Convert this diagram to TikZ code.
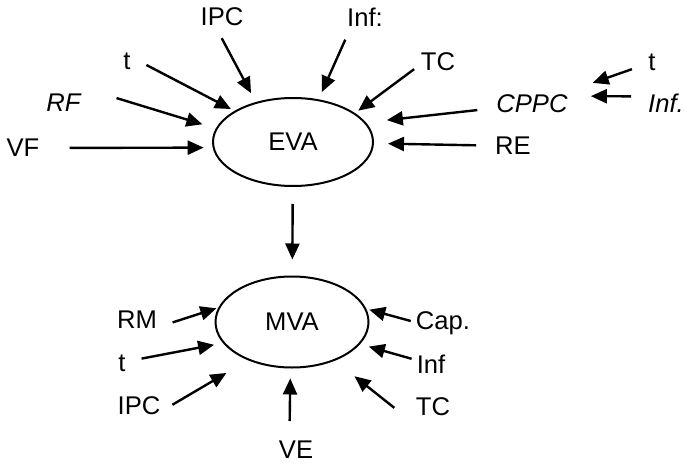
\documentclass[tikz,border=0pt]{standalone}
\usepackage{fontspec}
\setmainfont{Liberation Sans}
\usetikzlibrary{shapes.geometric,arrows.meta}

\begin{document}
\begin{tikzpicture}[x=0.5pt, y=-0.5pt, line width=1.2pt,
    lbl/.style={inner sep=2pt, text depth=0pt, font=\fontsize{12.8}{15}\selectfont},
    oval/.style={draw, ellipse, line width=1pt, inner sep=0pt, font=\fontsize{12.8}{15}\selectfont},
    arr/.style={-{Triangle[length=8pt,width=7pt]}}]
    \useasboundingbox (0,0) rectangle (688,470);
    \node[oval, minimum width=80pt, minimum height=44pt] (EVA) at (293,142) {EVA};
    \node[oval, minimum width=76.5pt, minimum height=45.5pt] (MVA) at (292,322) {MVA};
    \node[lbl] (IPCe) at (222,17) {IPC};
    \node[lbl] (INFe) at (365,17) {Inf:};
    \node[lbl] (Te) at (127,61) {t};
    \node[lbl] (TCe) at (438,62) {TC};
    \node[lbl] (RFe) at (64,103) {\textit{RF}};
    \node[lbl] (VFe) at (23,148) {VF};
    \node[lbl] (CPPC) at (532,104) {\textit{CPPC}};
    \node[lbl] (REe) at (513,146) {RE};
    \node[lbl] (Tc) at (652,62) {t};
    \node[lbl] (INFc) at (666,103) {\textit{Inf.}};
    \node[lbl] (RMm) at (137,320) {RM};
    \node[lbl] (Tm) at (122,363) {t};
    \node[lbl] (IPCm) at (139,406) {IPC};
    \node[lbl] (VEm) at (296,450) {VE};
    \node[lbl] (TCm) at (433,407) {TC};
    \node[lbl] (INFm) at (431,364) {Inf};
    \node[lbl] (CAPm) at (443,321) {Cap.};
    \draw[arr, shorten <=4pt, shorten >=5pt] (IPCe.-106) -- (EVA.133);
    \draw[arr, shorten <=4.5pt, shorten >=4pt] (INFe.-138) -- (EVA.59);
    \draw[arr, shorten <=6pt, shorten >=2pt] (Te.10) -- (EVA.152);
    \draw[arr, shorten <=15.5pt, shorten >=7pt] (RFe.north east) -- (EVA.170);
    \draw[arr, shorten <=12.5pt, shorten >=4.5pt] (VFe) -- (EVA.184);
    \draw[arr, shorten <=1pt, shorten >=2pt] (TCe.-165) -- (EVA.25);
    \draw[arr, shorten <=7pt, shorten >=10.5pt] (CPPC) -- (EVA.15);
    \draw[arr, shorten <=7pt, shorten >=7pt] (REe) -- (EVA.-1);
    \draw[arr, shorten <=6pt, shorten >=10.5pt] (Tc.-160) -- (CPPC.north east);
    \draw[arr, shorten <=6pt, shorten >=9pt] (INFc.164) -- (CPPC.11);
    \draw[arr, shorten <=8.5pt, shorten >=8pt] (EVA) -- (MVA);
    \draw[arr, shorten <=5.5pt, shorten >=1pt] (RMm.-13) -- (MVA.169);
    \draw[arr, shorten <=5.5pt, shorten >=4.5pt] (Tm.15) -- (MVA.197);
    \draw[arr, shorten <=4pt, shorten >=12.5pt] (IPCm.-6) -- (MVA.221);
    \draw[arr, shorten <=7.5pt, shorten >=5pt] (VEm.115) -- (MVA.268);
    \draw[arr, shorten <=10.5pt, shorten >=12.5pt] (TCm.-148) -- (MVA.-42);
    \draw[arr, shorten >=4.5pt] (INFm.165) -- (MVA.-18);
    \draw[arr, shorten >=1.5pt] (CAPm.west) -- (MVA.10);
\end{tikzpicture}
\end{document}
